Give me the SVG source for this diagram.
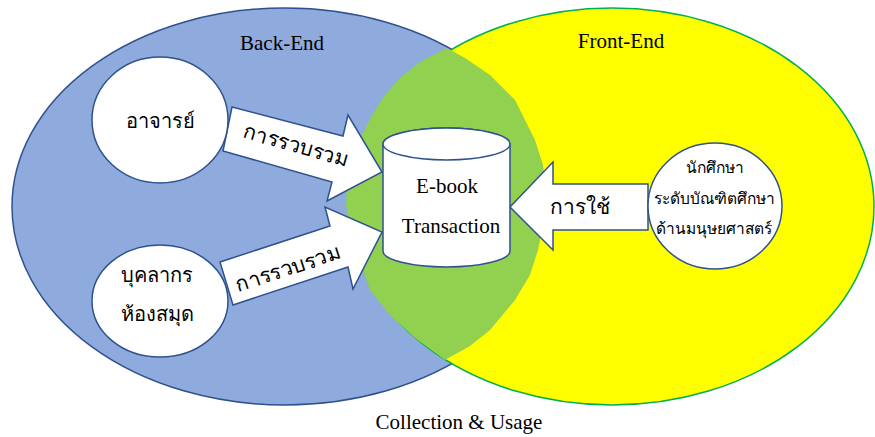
<svg xmlns="http://www.w3.org/2000/svg" width="875" height="437" viewBox="0 0 875 437">
<style>
.lat{font-family:"Liberation Serif","Times New Roman",serif;font-size:21px;fill:#000;text-anchor:middle}
.th{font-family:"Liberation Serif","Noto Sans",serif;fill:#000;text-anchor:middle}
.shape{fill:#fff;stroke:#2f528f;stroke-width:1.5}
</style>
<rect width="875" height="437" fill="#fff"/>
<g id="backend">
<ellipse cx="285" cy="206.5" rx="273" ry="198.5" fill="#8faadc" stroke="#2f528f" stroke-width="1.5"/>
<text class="lat" x="282" y="50">Back-End</text>
</g>
<g id="frontend">
<ellipse cx="612" cy="206.5" rx="262" ry="198.5" fill="#ffff00" stroke="#00b050" stroke-width="1.5"/>
<text class="lat" x="621" y="48">Front-End</text>
</g>
<g id="overlap">
<polygon fill="#92d050" points="447,48 420,62 400,78 385,95 372,115 362,135 352,160 347,185 346,205 350,230 358,255 370,290 390,315 415,338 445,360 470,346 490,330 515,300 530,275 538,250 544,220 546,190 543,165 535,140 515,100 490,75 465,58"/>
</g>
<g id="connectors">
<polygon class="shape" points="232,107 343,136 348,115 382,172 327,201 332,182 223,151"/>
<text class="th" font-size="21" transform="translate(294,152) rotate(16)">การรวบรวม</text>
<polygon class="shape" points="220,262 330,226 325,207 382,232 353,289 348,267 233,305"/>
<text class="th" font-size="21" transform="translate(290,275) rotate(-18)">การรวบรวม</text>
<polygon class="shape" points="648,184 553,184 553,162 510,207 553,250 553,230 648,230"/>
<text class="th" font-size="21" x="580" y="214">การใช้</text>
</g>
<g id="teacher">
<ellipse class="shape" cx="160" cy="120" rx="68" ry="63"/>
<text class="th" font-size="20" x="160" y="128">อาจารย์</text>
</g>
<g id="staff">
<ellipse class="shape" cx="160" cy="301" rx="68" ry="56"/>
<text class="th" font-size="20" x="157" y="282">บุคลากร</text>
<text class="th" font-size="20" x="157" y="321">ห้องสมุด</text>
</g>
<g id="student">
<ellipse class="shape" cx="715" cy="206" rx="67" ry="63"/>
<text class="th" font-size="15.5" x="715" y="173">นักศึกษา</text>
<text class="th" font-size="15.5" x="714" y="204">ระดับบัณฑิตศึกษา</text>
<text class="th" font-size="15.5" x="714" y="234">ด้านมนุษยศาสตร์</text>
</g>
<g id="ebook">
<path class="shape" d="M383,144 L383,251 A63.5,16 0 0 0 510,251 L510,144 A63.5,16 0 0 0 383,144 Z"/>
<ellipse class="shape" cx="446.5" cy="144" rx="63.5" ry="16"/>
<text class="lat" x="447" y="193">E-book</text>
<text class="lat" x="451" y="233">Transaction</text>
</g>
<text class="lat" x="459" y="429">Collection &amp; Usage</text>
</svg>
